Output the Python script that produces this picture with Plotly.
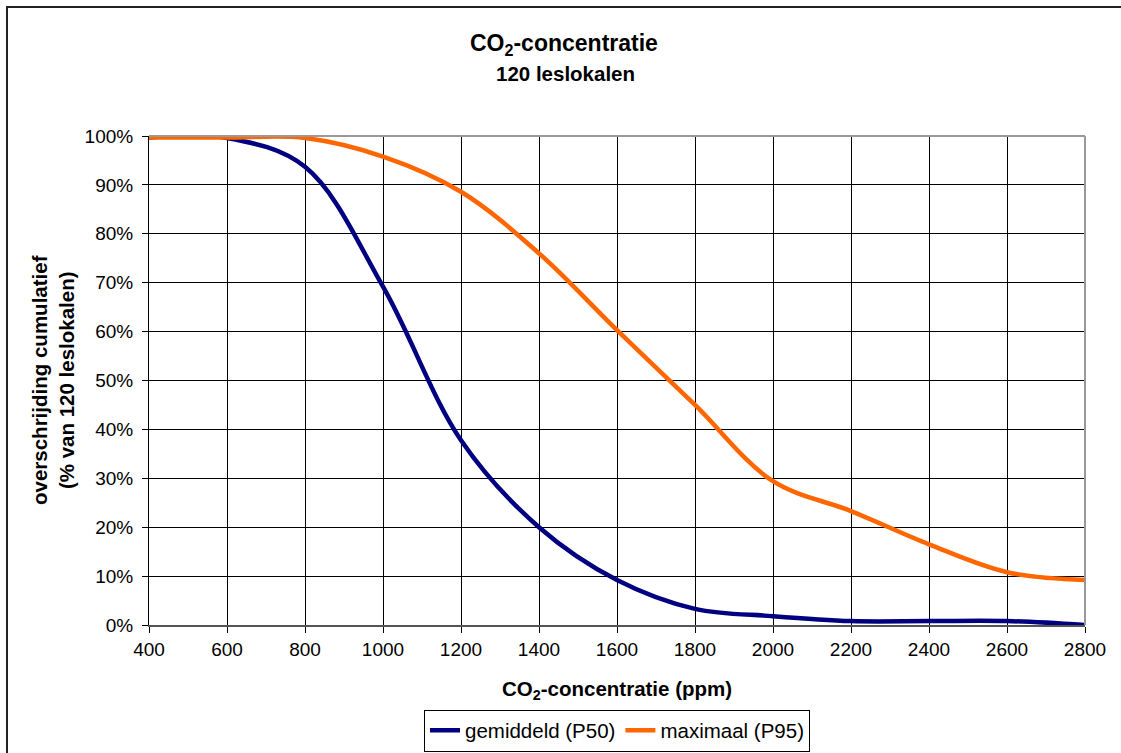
import plotly.graph_objects as go

# CO2 concentration (ppm)
co2_ppm = [400, 600, 800, 1000, 1200, 1400, 1600, 1800, 2000, 2200, 2400, 2600, 2800]
# cumulative exceedance (% of 120 classrooms)
p50_gemiddeld = [99.7, 99.6, 93.7, 69.2, 37.8, 20.0, 9.2, 3.3, 1.8, 0.8, 0.8, 0.8, 0.0]
p95_maximaal = [99.7, 99.7, 99.6, 95.8, 88.6, 76.0, 60.3, 45.0, 29.4, 23.3, 16.5, 10.8, 9.2]

x_ticks = [400, 600, 800, 1000, 1200, 1400, 1600, 1800, 2000, 2200, 2400, 2600, 2800]
y_ticks = [0, 10, 20, 30, 40, 50, 60, 70, 80, 90, 100]

FONT = "Liberation Sans, Arial, sans-serif"
W, H = 1121, 753
L, R, T, B = 149, 36, 136, 128
PW, PH = W - L - R, H - T - B


def px_x(px):
    return (px - L) / PW


def px_y(py):
    return (H - B - py) / PH


fig = go.Figure()
fig.add_trace(go.Scatter(
    x=co2_ppm, y=p50_gemiddeld, mode="lines", name="gemiddeld (P50)",
    line=dict(color="#000080", width=4.5, shape="spline", smoothing=1.0),
))
fig.add_trace(go.Scatter(
    x=co2_ppm, y=p95_maximaal, mode="lines", name="maximaal (P95)",
    line=dict(color="#FF6600", width=4.5, shape="spline", smoothing=1.0),
))

fig.update_layout(
    width=W, height=H, autosize=False,
    margin=dict(l=L, r=R, t=T, b=B, pad=0, autoexpand=False),
    paper_bgcolor="white", plot_bgcolor="white",
    font=dict(family=FONT, size=19, color="black"),
    showlegend=True,
    legend=dict(
        orientation="h", xref="paper", x=0.5, xanchor="center",
        yref="container", y=1.5 / H, yanchor="bottom",
        bordercolor="black", borderwidth=1, bgcolor="white",
        font=dict(family=FONT, size=20.5, color="black"),
        tracegroupgap=0,
    ),
)

fig.update_xaxes(
    range=[400, 2800], tickmode="array", tickvals=x_ticks,
    ticktext=[str(v) for v in x_ticks],
    showgrid=True, gridcolor="black", gridwidth=1,
    showline=True, linecolor="#555555", linewidth=2,
    ticks="outside", ticklen=6, tickcolor="black", tickwidth=1,
    tickfont=dict(family=FONT, size=19, color="black"),
    zeroline=False, fixedrange=True, automargin=False,
)
fig.update_yaxes(
    range=[0, 100], tickmode="array", tickvals=y_ticks,
    ticktext=[f"{v}%" for v in y_ticks],
    showgrid=True, gridcolor="black", gridwidth=1,
    showline=True, linecolor="black", linewidth=1,
    ticks="outside", ticklen=6, tickcolor="black", tickwidth=1,
    tickfont=dict(family=FONT, size=19, color="black"),
    ticklabelstandoff=5,
    zeroline=False, fixedrange=True, automargin=False,
)

# plot-area top and right borders (gray)
fig.add_shape(type="line", xref="paper", yref="paper", x0=0, x1=1, y0=1, y1=1,
              line=dict(color="#999999", width=2))
fig.add_shape(type="line", xref="paper", yref="paper", x0=1, x1=1, y0=0, y1=1,
              line=dict(color="#999999", width=2))

# outer chart frame
fig.add_shape(type="rect", xref="paper", yref="paper",
              x0=px_x(7), x1=px_x(W + 20), y0=px_y(H + 20), y1=px_y(7),
              line=dict(color="#222222", width=2), fillcolor="rgba(0,0,0,0)", layer="above")

# titles
fig.add_annotation(text="<b>CO<sub>2</sub>-concentratie</b>", xref="paper", yref="paper",
                   x=px_x(564), y=px_y(45), xanchor="center", yanchor="middle",
                   showarrow=False, font=dict(family=FONT, size=23, color="black"))
fig.add_annotation(text="<b>120 leslokalen</b>", xref="paper", yref="paper",
                   x=px_x(565), y=px_y(73), xanchor="center", yanchor="middle",
                   showarrow=False, font=dict(family=FONT, size=20.5, color="black"))
fig.add_annotation(text="<b>CO<sub>2</sub>-concentratie (ppm)</b>", xref="paper", yref="paper",
                   x=0.5, y=px_y(690), xanchor="center", yanchor="middle",
                   showarrow=False, font=dict(family=FONT, size=20.5, color="black"))
fig.add_annotation(text="<b>overschrijding cumulatief<br>(% van 120 leslokalen)</b>",
                   xref="paper", yref="paper", textangle=-90,
                   x=px_x(52.5), y=0.5, xanchor="center", yanchor="middle",
                   showarrow=False, font=dict(family=FONT, size=20.5, color="black"))

fig.write_html("out.html")
